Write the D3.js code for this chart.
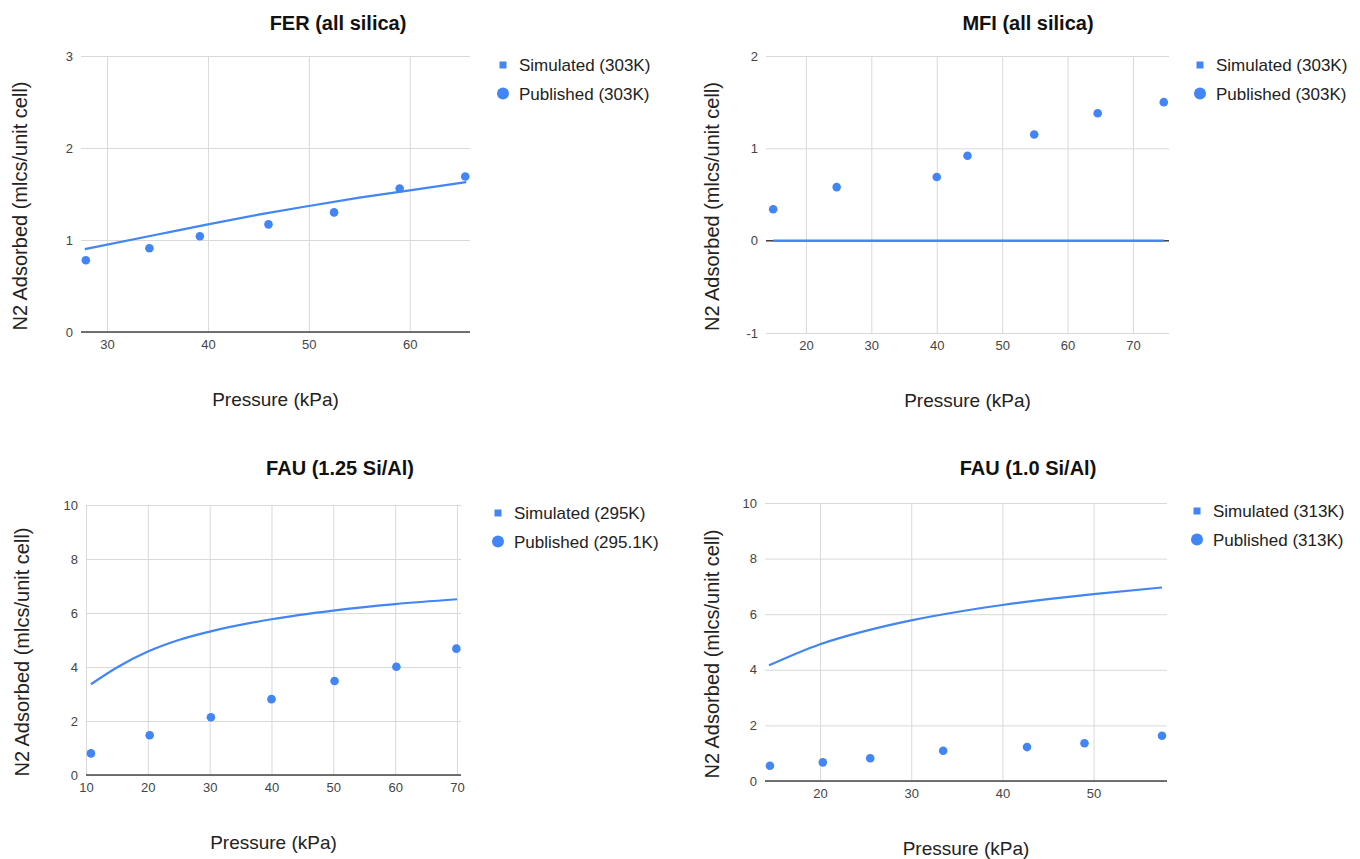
<!DOCTYPE html>
<html>
<head>
  <meta charset="utf-8">
  <title>N2 adsorption isotherms</title>
  <script src="https://cdn.jsdelivr.net/npm/d3@7"></script>
  <style>
    body { margin: 0; background: #fff; }
    svg { display: block; font-family: Arial, "Liberation Sans", sans-serif; }
  </style>
</head>
<body>
<script>
// titles and legend labels
const titles = ["FER (all silica)", "MFI (all silica)", "FAU (1.25 Si/Al)", "FAU (1.0 Si/Al)"];
const simLabels = ["Simulated (303K)", "Simulated (303K)", "Simulated (295K)", "Simulated (313K)"];
const pubLabels = ["Published (303K)", "Published (303K)", "Published (295.1K)", "Published (313K)"];

// tick labels
const xTicks = [[30, 40, 50, 60], [20, 30, 40, 50, 60, 70], [10, 20, 30, 40, 50, 60, 70], [20, 30, 40, 50]];
const yTicks = [[0, 1, 2, 3], [-1, 0, 1, 2], [0, 2, 4, 6, 8, 10], [0, 2, 4, 6, 8, 10]];

// simulated curves (pressure kPa, molecules / unit cell)
const simP = [
  [27.8, 35, 40, 45, 50, 55, 60, 65.6],
  [15.0, 24.7, 40.0, 44.7, 54.9, 64.6, 74.7],
  [10.8, 15, 20, 25, 30, 40, 50, 60, 70],
  [14.4, 20, 25, 30, 35, 40, 45, 50, 57.5]
];
const simN = [
  [0.90, 1.06, 1.17, 1.275, 1.37, 1.46, 1.54, 1.63],
  [0, 0, 0, 0, 0, 0, 0],
  [3.36, 3.98, 4.57, 5.00, 5.31, 5.77, 6.09, 6.33, 6.51],
  [4.16, 4.92, 5.40, 5.78, 6.08, 6.33, 6.54, 6.72, 6.96]
];

// published points
const pubP = [
  [27.9, 34.2, 39.2, 46.0, 52.5, 59.0, 65.5],
  [15.0, 24.7, 40.0, 44.7, 54.9, 64.6, 74.7],
  [10.8, 20.3, 30.2, 40.0, 50.2, 60.2, 69.9],
  [14.5, 20.3, 25.5, 33.5, 42.7, 49.0, 57.5]
];
const pubN = [
  [0.78, 0.91, 1.04, 1.17, 1.30, 1.56, 1.69],
  [0.34, 0.58, 0.69, 0.92, 1.15, 1.38, 1.50],
  [0.80, 1.47, 2.14, 2.81, 3.48, 4.01, 4.68],
  [0.55, 0.67, 0.82, 1.09, 1.22, 1.36, 1.63]
];

// axis ranges
const xDomains = [[27.42, 65.97], [13.9, 75.5], [10, 70.65], [13.96, 58.05]];
const yDomains = [[0, 3], [-1, 2], [0, 10], [0, 10]];

// layout of each panel (plot box, title centre, legend position, axis title x)
const layout = [
  { left: 81, right: 470, top: 56, bottom: 332, titleX: 338, titleY: 30, legX: 503, legY: 65, yTitleX: 20 },
  { left: 766, right: 1169, top: 56, bottom: 333, titleX: 1028, titleY: 30, legX: 1200, legY: 65, yTitleX: 712 },
  { left: 86, right: 461, top: 505, bottom: 775, titleX: 340, titleY: 475, legX: 498, legY: 513, yTitleX: 22 },
  { left: 765, right: 1167, top: 503, bottom: 781, titleX: 1028, titleY: 475, legX: 1197, legY: 511, yTitleX: 712 }
];

const blue = "#4285f4";

const svg = d3.select("body").append("svg")
  .attr("width", 1360)
  .attr("height", 859);

titles.forEach(function (title, i) {
  const L = layout[i];
  const w = L.right - L.left;
  const h = L.bottom - L.top;

  const x = d3.scaleLinear().domain(xDomains[i]).range([0, w]);
  const y = d3.scaleLinear().domain(yDomains[i]).range([h, 0]);

  const g = svg.append("g")
    .attr("transform", "translate(" + L.left + "," + L.top + ")");

  // gridlines + tick labels (plain hyphen for negatives, like the original)
  const fmt = function (d) { return String(d); };
  const xAxis = g.append("g")
    .attr("transform", "translate(0," + h + ")")
    .call(d3.axisBottom(x).tickValues(xTicks[i]).tickSize(-h).tickPadding(8).tickFormat(fmt));
  const yAxis = g.append("g")
    .call(d3.axisLeft(y).tickValues(yTicks[i]).tickSize(-w).tickPadding(8).tickFormat(fmt));

  [xAxis, yAxis].forEach(function (ax) {
    ax.select(".domain").remove();
    ax.selectAll(".tick line").attr("stroke", "#d9d9d9").attr("stroke-width", 1);
    ax.selectAll(".tick text")
      .attr("fill", "#444")
      .style("font-size", "13px")
      .style("font-family", "Arial, 'Liberation Sans', sans-serif");
  });

  // baseline at zero
  g.append("line")
    .attr("x1", 0).attr("x2", w)
    .attr("y1", y(0)).attr("y2", y(0))
    .attr("stroke", "#444")
    .attr("stroke-width", 1.5);

  // simulated curve
  const simData = simP[i].map(function (p, k) { return [p, simN[i][k]]; });
  const line = d3.line()
    .x(function (d) { return x(d[0]); })
    .y(function (d) { return y(d[1]); })
    .curve(d3.curveMonotoneX);
  g.append("path")
    .datum(simData)
    .attr("d", line)
    .attr("fill", "none")
    .attr("stroke", blue)
    .attr("stroke-width", 2.2);

  // published points
  const pubData = pubP[i].map(function (p, k) { return [p, pubN[i][k]]; });
  g.selectAll("circle.pub")
    .data(pubData)
    .enter()
    .append("circle")
    .attr("class", "pub")
    .attr("cx", function (d) { return x(d[0]); })
    .attr("cy", function (d) { return y(d[1]); })
    .attr("r", 4.3)
    .attr("fill", blue);

  // chart title
  svg.append("text")
    .attr("x", L.titleX)
    .attr("y", L.titleY)
    .attr("text-anchor", "middle")
    .style("font-size", "20px")
    .style("font-weight", "bold")
    .attr("fill", "#111")
    .text(title);

  // axis titles
  svg.append("text")
    .attr("x", L.left + w / 2)
    .attr("y", L.bottom + 74)
    .attr("text-anchor", "middle")
    .style("font-size", "19px")
    .attr("fill", "#222")
    .text("Pressure (kPa)");

  const cy = L.top + h / 2 + 12;
  svg.append("text")
    .attr("transform", "translate(" + (L.yTitleX + 7) + "," + cy + ") rotate(-90)")
    .attr("text-anchor", "middle")
    .style("font-size", "20px")
    .attr("fill", "#222")
    .text("N2 Adsorbed (mlcs/unit cell)");

  // legend
  svg.append("rect")
    .attr("x", L.legX - 3.5)
    .attr("y", L.legY - 3.5)
    .attr("width", 7)
    .attr("height", 7)
    .attr("fill", blue);
  svg.append("text")
    .attr("x", L.legX + 16)
    .attr("y", L.legY + 6)
    .style("font-size", "17px")
    .attr("fill", "#222")
    .text(simLabels[i]);

  svg.append("circle")
    .attr("cx", L.legX)
    .attr("cy", L.legY + 28.5)
    .attr("r", 6)
    .attr("fill", blue);
  svg.append("text")
    .attr("x", L.legX + 16)
    .attr("y", L.legY + 34.5)
    .style("font-size", "17px")
    .attr("fill", "#222")
    .text(pubLabels[i]);
});
</script>
</body>
</html>
